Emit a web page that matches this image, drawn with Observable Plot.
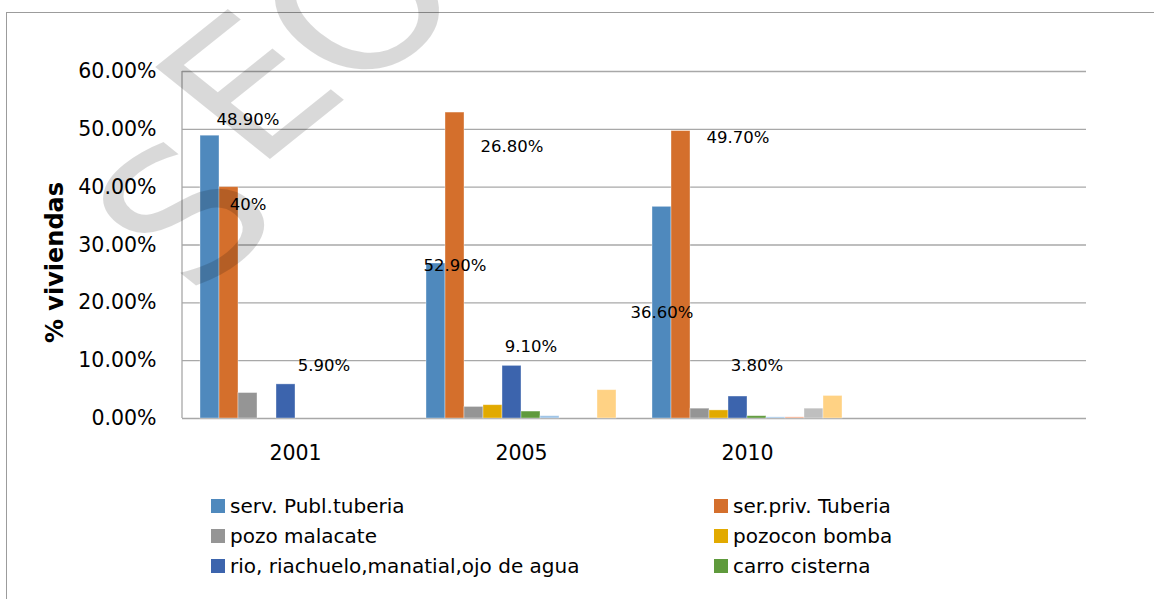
<!DOCTYPE html>
<html>
<head>
<meta charset="utf-8">
<script src="https://cdn.jsdelivr.net/npm/d3@7"></script>
<script src="https://cdn.jsdelivr.net/npm/@observablehq/plot@0.6"></script>
<style>
  html, body { margin: 0; padding: 0; background: #fff; }
  body { font-family: "DejaVu Sans", sans-serif; color: #000; }
  #wrap { position: relative; width: 1154px; height: 599px; overflow: hidden; }
  #frame { position: absolute; left: 6px; top: 12px; width: 1300px; height: 800px; border: 1px solid #9c9c9c; box-sizing: border-box; }
  #chart { position: absolute; left: 0; top: 0; }
  .leg { position: absolute; font-size: 20px; line-height: 20px; white-space: nowrap; }
  .leg .sw { position: absolute; width: 14px; height: 14px; left: 0; top: 3px; }
  .leg .tx { position: absolute; left: 19px; top: 0; }
  #wm { position: absolute; left: 0; top: 0; pointer-events: none; }
</style>
</head>
<body>
<div id="wrap">
  <div id="frame"></div>
  <div id="chart"></div>
  <div id="legend"></div>
  <svg id="wm" width="1154" height="599"></svg>
</div>
<script>
// ---- data ----
const years = ["2001", "2005", "2010", ""];
const series = [
  "serv. Publ.tuberia",
  "ser.priv. Tuberia",
  "pozo malacate",
  "pozocon bomba",
  "rio, riachuelo,manatial,ojo de agua",
  "carro cisterna",
  "serie 7",
  "serie 8",
  "serie 9",
  "serie 10"
];
const colors = ["#4f89bd", "#d46f2c", "#959595", "#e2aa00", "#3c64ad", "#5f9a3c", "#9dc3e6", "#f4a582", "#bfbfbf", "#ffd284"];

const servPublTuberia = [0.489, 0.268, 0.366, null];
const serPrivTuberia  = [0.400, 0.529, 0.497, null];
const pozoMalacate    = [0.044, 0.020, 0.017, null];
const pozoconBomba    = [null,  0.023, 0.014, null];
const rioRiachuelo    = [0.059, 0.091, 0.038, null];
const carroCisterna   = [null,  0.012, 0.004, null];
const serie7          = [null,  0.004, 0.002, null];
const serie8          = [null,  null,  0.002, null];
const serie9          = [null,  null,  0.017, null];
const serie10         = [null,  0.049, 0.039, null];
const seriesValues = [servPublTuberia, serPrivTuberia, pozoMalacate, pozoconBomba, rioRiachuelo, carroCisterna, serie7, serie8, serie9, serie10];

const legendSeries = series.slice(0, 6);
const yTicks = [0, 0.1, 0.2, 0.3, 0.4, 0.5, 0.6];

// data labels as placed in the original (text, year, nearest series, height)
const labelTexts  = ["48.90%", "40%", "5.90%", "52.90%", "26.80%", "9.10%", "36.60%", "49.70%", "3.80%"];
const labelYears  = ["2001", "2001", "2001", "2005", "2005", "2005", "2010", "2010", "2010"];
const labelSeries = [series[2], series[2], series[6], series[1], series[4], series[5], series[0], series[4], series[5]];
const labelY      = [0.517, 0.370, 0.092, 0.265, 0.4695, 0.1245, 0.1833, 0.485, 0.092];

// watermark letters
const watermarkLetters = ["S", "E", "O"];

// ---- tables ----
const rows = [];
series.forEach((s, i) => years.forEach((yr, j) => rows.push({year: yr, series: s, value: seriesValues[i][j]})));
const labels = labelTexts.map((t, i) => ({text: t, year: labelYears[i], series: labelSeries[i], y: labelY[i]}));

const chart = Plot.plot({
  width: 1154,
  height: 480,
  marginLeft: 182,
  marginRight: 68,
  marginTop: 71,
  marginBottom: 62,
  style: {fontFamily: "DejaVu Sans, sans-serif", background: "transparent", color: "#000", overflow: "visible"},
  fx: {domain: years, padding: 0},
  x: {domain: series, paddingInner: 0, paddingOuter: 0.79, axis: null},
  y: {domain: [0, 0.6]},
  color: {domain: series, range: colors},
  marks: [
    Plot.ruleY(yTicks, {stroke: "#a8a8a8", strokeWidth: 1.3}),
    Plot.barY(rows, {fx: "year", x: "series", y: "value", fill: "series", stroke: "#ffffff", strokeOpacity: 0.45, strokeWidth: 0.8}),
    Plot.text(labels, {fx: "year", x: "series", y: "y", text: "text", fontSize: 16.5, fill: "#000"}),
    Plot.axisY({ticks: yTicks, tickFormat: d3.format(".2%"), tickSize: 0, tickPadding: 26, fontSize: 20.5, label: null}),
    Plot.axisFx({anchor: "bottom", tickSize: 0, tickPadding: 27, fontSize: 20.5, label: null})
  ]
});
document.getElementById("chart").appendChild(chart);

// vertical axis line + axis title
const svg = d3.select(chart);
const ys = chart.scale("y");
const fxs = chart.scale("fx");
const x0 = fxs.apply(years[0]);
svg.append("line")
  .attr("x1", x0).attr("x2", x0)
  .attr("y1", ys.apply(0.6)).attr("y2", ys.apply(0))
  .attr("stroke", "#a8a8a8").attr("stroke-width", 1.3);
svg.append("text")
  .attr("transform", "translate(63,262.5) rotate(-90)")
  .attr("text-anchor", "middle")
  .attr("font-family", "DejaVu Sans, sans-serif")
  .attr("font-weight", "bold")
  .attr("font-size", 24)
  .attr("fill", "#000")
  .text("% viviendas");

// legend (first six series, two columns)
const legend = document.getElementById("legend");
legendSeries.forEach((s, i) => {
  const col = i % 2, row = Math.floor(i / 2);
  const d = document.createElement("div");
  d.className = "leg";
  d.style.left = (col === 0 ? 211 : 714) + "px";
  d.style.top = (496 + row * 30) + "px";
  d.innerHTML = `<span class="sw" style="background:${colors[i]}"></span><span class="tx"></span>`;
  d.querySelector(".tx").textContent = s;
  legend.appendChild(d);
});

// faint watermark (partly outside the picture, as in the original)
const wmCentres = [[186, 215], [250, 88], [360, 6]];
d3.select("#wm").selectAll("text").data(watermarkLetters).join("text")
  .attr("transform", (d, i) => `translate(${wmCentres[i][0]},${wmCentres[i][1]}) scale(1.25,1) rotate(-45)`)
  .attr("text-anchor", "middle")
  .attr("dominant-baseline", "central")
  .attr("font-family", "DejaVu Sans, sans-serif")
  .attr("font-size", 178)
  .attr("fill", "#000")
  .attr("fill-opacity", 0.15)
  .text(d => d);
</script>
</body>
</html>
